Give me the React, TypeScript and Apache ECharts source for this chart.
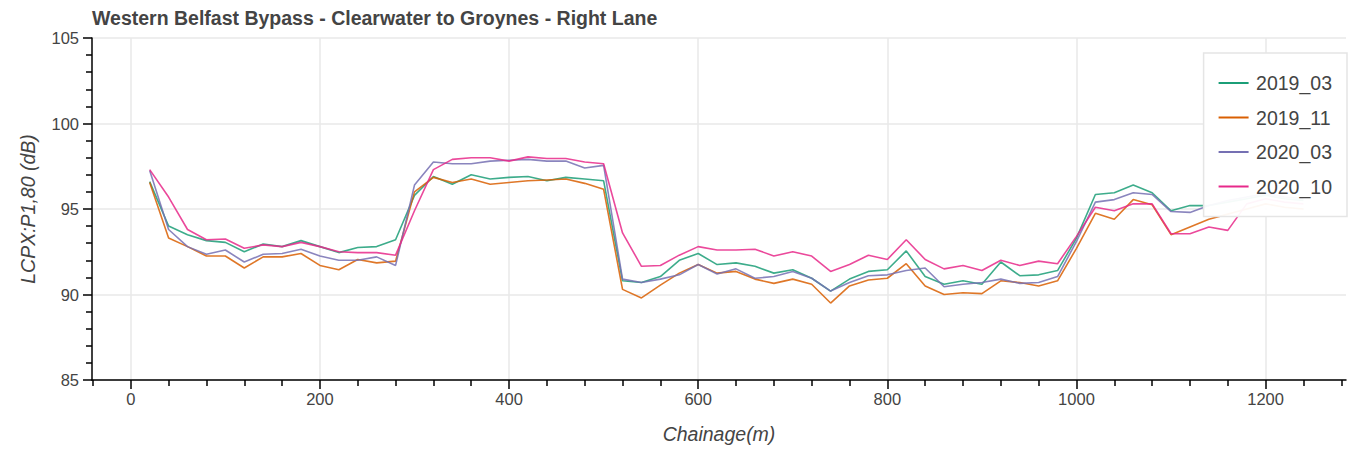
import React, { useEffect, useRef } from "react";
import * as echarts from "echarts";

const chainage = [
  20, 40, 60, 80, 100, 120, 140, 160, 180, 200, 220, 240, 260, 280, 300, 320, 340, 360, 380, 400,
  420, 440, 460, 480, 500, 520, 540, 560, 580, 600, 620, 640, 660, 680, 700, 720, 740, 760, 780, 800,
  820, 840, 860, 880, 900, 920, 940, 960, 980, 1000, 1020, 1040, 1060, 1080, 1100, 1120, 1140, 1160, 1180, 1200,
  1220, 1240,
];

const s2019_03 = [
  96.6, 94.0, 93.5, 93.15, 93.05, 92.5, 92.95, 92.8, 93.15, 92.8, 92.45, 92.75, 92.8, 93.2, 95.8, 96.9, 96.45, 97.0, 96.75, 96.85,
  96.9, 96.65, 96.85, 96.75, 96.65, 90.8, 90.7, 91.05, 92.0, 92.4, 91.75, 91.85, 91.65, 91.25, 91.45, 90.95, 90.2, 90.9, 91.35, 91.45,
  92.55, 91.05, 90.6, 90.8, 90.6, 91.9, 91.1, 91.15, 91.4, 93.3, 95.85, 95.95, 96.4, 95.95, 94.9, 95.2, 95.2, 95.4, 95.6, 95.8,
  95.6, 95.5,
];

const s2019_11 = [
  96.55, 93.3, 92.8, 92.25, 92.25, 91.55, 92.2, 92.2, 92.4, 91.7, 91.45, 92.05, 91.85, 91.95, 96.0, 96.85, 96.55, 96.75, 96.45, 96.55,
  96.65, 96.7, 96.75, 96.5, 96.15, 90.3, 89.8, 90.55, 91.25, 91.75, 91.25, 91.35, 90.9, 90.65, 90.9, 90.6, 89.5, 90.5, 90.85, 90.95,
  91.8, 90.5, 90.0, 90.1, 90.05, 90.8, 90.7, 90.5, 90.8, 92.7, 94.75, 94.4, 95.55, 95.25, 93.5, 93.95, 94.4, 94.7, 95.0, 95.3,
  95.1, 95.0,
];

const s2020_03 = [
  97.25, 93.8, 92.8, 92.35, 92.6, 91.9, 92.35, 92.4, 92.65, 92.25, 92.0, 92.0, 92.2, 91.7, 96.4, 97.75, 97.65, 97.65, 97.8, 97.85,
  97.9, 97.8, 97.8, 97.4, 97.55, 90.9, 90.7, 90.9, 91.15, 91.75, 91.2, 91.5, 90.95, 91.05, 91.35, 90.95, 90.2, 90.7, 91.1, 91.15,
  91.4, 91.55, 90.45, 90.6, 90.7, 90.9, 90.65, 90.7, 91.05, 93.1, 95.4, 95.55, 95.95, 95.85, 94.85, 94.8, 95.2, 95.5, 95.7, 95.9,
  95.7, 95.6,
];

const s2020_10 = [
  97.3, 95.7, 93.8, 93.2, 93.25, 92.7, 92.9, 92.8, 93.05, 92.8, 92.5, 92.45, 92.45, 92.3, 94.9, 97.3, 97.9, 98.0, 98.0, 97.8,
  98.05, 97.95, 97.95, 97.75, 97.65, 93.6, 91.65, 91.7, 92.3, 92.8, 92.6, 92.6, 92.65, 92.25, 92.5, 92.25, 91.35, 91.75, 92.3, 92.05,
  93.2, 92.05, 91.5, 91.7, 91.4, 92.0, 91.7, 91.95, 91.8, 93.4, 95.1, 94.9, 95.3, 95.3, 93.55, 93.55, 93.95, 93.75, 95.3, 95.6,
  95.4, 95.3,
];

const seriesNames = ["2019_03", "2019_11", "2020_03", "2020_10"];
const seriesValues = [s2019_03, s2019_11, s2020_03, s2020_10];
const seriesColors = ["#1b9e77", "#d95f02", "#7570b3", "#e7298a"];

const xMajorTicks = [0, 200, 400, 600, 800, 1000, 1200];
const xMinorTicks = [-40, 40, 80, 120, 160, 240, 280, 320, 360, 440, 480, 520, 560, 640, 680, 720, 760, 840, 880, 920, 960, 1040, 1080, 1120, 1160, 1240, 1280];

const titleText = "Western Belfast Bypass - Clearwater to Groynes - Right Lane";
const xName = "Chainage(m)";
const yName = "LCPX:P1,80 (dB)";

const FONT = "'Liberation Sans', Helvetica, Arial, sans-serif";
const XMIN = -41;
const XMAX = 1285;

export default function App() {
  const ref = useRef<HTMLDivElement>(null);

  useEffect(() => {
    document.body.style.margin = "0";
    if (!ref.current) return;
    const chart = echarts.init(ref.current, undefined, { renderer: "svg" });

    const series = seriesNames.map((name, i) => ({
      name,
      type: "line",
      xAxisIndex: 0,
      yAxisIndex: 0,
      showSymbol: false,
      symbol: "none",
      color: seriesColors[i],
      itemStyle: { color: seriesColors[i] },
      lineStyle: { width: 1.6, color: seriesColors[i], opacity: 0.85 },
      data: chainage.map((c, k) => [c, seriesValues[i][k]]),
    }));

    chart.setOption({
      animation: false,
      backgroundColor: "#ffffff",
      textStyle: { fontFamily: FONT },
      title: {
        text: titleText,
        left: 92,
        top: 8,
        padding: 0,
        textStyle: { fontFamily: FONT, fontSize: 19.5, fontWeight: "bold", color: "#444444" },
      },
      legend: {
        data: seriesNames,
        orient: "vertical",
        right: 2,
        top: 53,
        icon: "rect",
        itemWidth: 30,
        itemHeight: 2,
        itemGap: 4.5,
        padding: 15,
        borderColor: "#e5e5e5",
        borderWidth: 1.5,
        backgroundColor: "rgba(255,255,255,0.95)",
        textStyle: { fontFamily: FONT, fontSize: 19.5, lineHeight: 30, color: "#444444", padding: [0, 0, 0, 2.5] },
      },
      grid: { left: 92, right: 3, top: 38, bottom: 71, containLabel: false },
      xAxis: [
        {
          type: "value",
          min: XMIN,
          max: XMAX,
          splitNumber: 7,
          name: xName,
          nameLocation: "middle",
          nameGap: 44,
          nameTextStyle: { fontFamily: FONT, fontSize: 19.5, fontStyle: "italic", color: "#444444" },
          axisLine: { show: true, onZero: false, lineStyle: { color: "#000000", width: 1.5 } },
          axisTick: { show: true, length: 9, customValues: xMajorTicks, lineStyle: { color: "#000000", width: 1.5 } },
          axisLabel: {
            show: true,
            customValues: xMajorTicks,
            margin: 10,
            fontFamily: FONT,
            fontSize: 16.5,
            color: "#444444",
            showMinLabel: true,
            showMaxLabel: true,
            formatter: (v: number) => (xMajorTicks.indexOf(v) >= 0 ? String(v) : ""),
          },
          splitLine: { show: true, lineStyle: { color: "#e8e8e8", width: 1.5 } },
          minorTick: { show: false },
        },
        {
          type: "value",
          min: XMIN,
          max: XMAX,
          position: "bottom",
          axisLine: { show: false, onZero: false },
          axisTick: { show: true, length: 6, customValues: xMinorTicks, lineStyle: { color: "#000000", width: 1.5 } },
          axisLabel: { show: false },
          splitLine: { show: false },
        },
      ],
      yAxis: {
        type: "value",
        min: 85,
        max: 105,
        interval: 5,
        name: yName,
        nameLocation: "middle",
        nameGap: 54,
        nameRotate: 90,
        nameTextStyle: { fontFamily: FONT, fontSize: 19.5, fontStyle: "italic", color: "#444444" },
        axisLine: { show: true, onZero: false, lineStyle: { color: "#000000", width: 1.5 } },
        axisTick: { show: true, length: 9, lineStyle: { color: "#000000", width: 1.5 } },
        minorTick: { show: true, splitNumber: 5, length: 6, lineStyle: { color: "#000000", width: 1.5 } },
        axisLabel: { show: true, margin: 13, fontFamily: FONT, fontSize: 16.5, color: "#444444" },
        splitLine: { show: true, lineStyle: { color: "#e8e8e8", width: 1.5 } },
      },
      series,
    });

    return () => chart.dispose();
  }, []);

  return <div ref={ref} style={{ width: 1349, height: 451 }} />;
}
